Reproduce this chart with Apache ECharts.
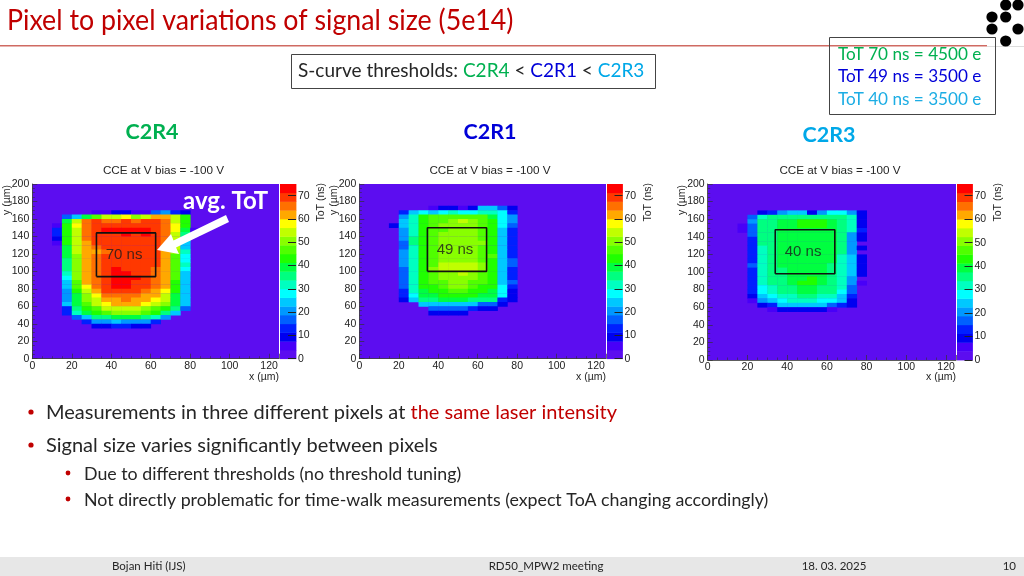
<!DOCTYPE html>
<html><head><meta charset="utf-8">
<style>html,body{margin:0;padding:0;background:#fff}#c{width:1024px;height:576px}</style>
<script src="https://cdn.jsdelivr.net/npm/echarts@6/dist/echarts.min.js"></script>
</head><body><div id="c"></div>
<script>
// ---- data ----
const palette=['#5c0df0','#4800f8','#0000f0','#0020ff','#0060ff','#0098ff','#00c8ff','#00ffff','#00ffc0','#00ff80','#00ff40','#20ff00','#50ff00','#88ff00','#c0ff00','#ffff00','#ffa800','#ff7000','#ff3800','#ff0000'];
const levelStep=3.75;
const barLevels=[0,3.75,7.5,11.25,15,18.75,22.5,26.25,30,33.75,37.5,41.25,45,48.75,52.5,56.25,60,63.75,67.5,71.25];
const binSize=5;
// rows listed from the top row down; first column x, top row y given
const c2r4X=10, c2r4TopY=165;
const c2r4=[
[0,0,0,0,4,6,8,8,6,4,18,20,14,8,0],
[0,16,24,38,46,54,56,58,50,56,62,62,56,42,0],
[0,40,56,64,68,66,66,68,66,68,70,66,56,44,0],
[6,42,57,66,70,70,71,71,70,70,70,66,57,42,0],
[12,42,56,66,70,72,72,72,72,72,70,66,58,40,6],
[14,42,56,64,68,70,70,72,70,72,70,66,56,34,4],
[10,42,56,64,68,70,70,70,70,70,70,64,56,30,0],
[6,42,54,62,68,70,70,70,70,70,70,64,54,26,0],
[0,40,54,60,66,68,70,70,70,70,70,62,56,26,0],
[0,40,54,60,62,66,70,70,70,70,68,60,52,30,0],
[0,38,52,60,64,68,70,70,70,70,68,62,46,28,0],
[0,36,52,62,66,70,70,70,70,70,68,62,46,28,0],
[0,36,52,62,66,70,70,70,70,70,68,62,46,30,0],
[0,34,52,60,66,70,72,70,70,70,66,60,48,28,0],
[0,32,52,60,64,70,72,72,70,70,66,60,46,26,0],
[0,28,50,60,64,68,72,72,72,70,66,60,46,26,0],
[0,26,48,62,64,70,72,72,70,68,66,60,44,26,0],
[0,24,46,58,64,70,72,72,70,68,64,60,44,26,0],
[0,22,42,56,62,68,70,70,68,66,62,58,42,26,0],
[0,20,40,52,58,64,66,66,64,62,60,56,40,26,0],
[0,22,40,50,56,60,62,64,62,60,58,54,38,26,0],
[0,24,38,46,54,58,60,60,60,58,56,50,38,24,0],
[0,14,34,42,48,54,56,56,54,52,48,42,34,16,0],
[0,14,30,38,44,48,50,50,50,46,42,36,24,0,0],
[0,0,16,26,34,36,38,38,38,34,32,20,0,0,0],
[0,0,0,14,20,22,24,22,22,20,14,0,0,0,0],
[0,0,0,0,10,10,12,12,10,8,0,0,0,0,0]];
const c2r1X=15, c2r1TopY=170;
const c2r1=[
[0,0,0,0,4,8,10,6,8,26,26,18,8],
[0,12,24,28,26,28,30,28,28,30,32,28,14],
[0,22,30,42,46,46,46,46,46,46,40,28,20],
[0,24,32,44,48,48,50,54,50,48,42,28,20],
[8,24,32,44,48,50,50,52,50,48,42,28,16],
[0,22,32,44,48,48,50,52,50,48,44,26,14],
[0,20,32,44,48,50,50,50,50,48,44,24,14],
[0,20,34,44,48,50,50,50,50,48,44,24,12],
[0,18,34,44,46,50,50,50,50,50,44,24,12],
[0,18,32,42,46,50,50,50,52,48,44,24,12],
[0,20,32,42,46,50,50,50,50,46,44,26,12],
[0,20,32,42,46,50,50,50,50,46,46,26,12],
[0,20,32,42,48,52,52,52,52,48,42,26,18],
[0,20,32,44,48,54,56,56,54,50,42,24,18],
[0,18,32,44,50,54,56,56,54,50,42,24,12],
[0,18,32,42,48,50,52,54,50,48,42,26,12],
[0,18,32,42,46,50,50,50,50,46,42,26,12],
[0,18,30,42,46,48,50,50,48,46,42,26,16],
[0,16,30,42,44,46,50,50,46,44,42,28,14],
[0,14,30,40,42,44,46,46,44,42,40,28,10],
[0,14,28,38,40,42,42,42,42,40,38,28,10],
[0,8,24,34,36,38,38,38,36,34,34,14,8],
[0,0,0,24,26,26,26,26,24,18,16,10,0],
[0,0,0,0,16,16,18,16,12,10,8,0,0],
[0,0,0,0,8,10,10,8,0,0,0,0,0]];
const c2r3X=15, c2r3TopY=165;
const c2r3=[
[0,0,8,12,20,24,24,10,22,28,28,22,10],
[0,18,32,34,34,36,36,36,36,36,34,30,10],
[0,20,34,36,38,40,42,42,42,40,36,30,10],
[6,18,34,36,38,40,42,42,42,40,36,30,10],
[6,18,34,36,38,40,40,40,40,40,36,30,12],
[0,16,34,36,38,40,40,40,40,40,36,22,10],
[0,12,34,36,38,40,40,40,40,40,36,20,8],
[0,12,34,36,38,40,40,40,40,40,36,20,0],
[0,12,32,36,38,38,40,40,40,38,34,20,8],
[0,12,32,36,38,38,40,40,40,38,34,20,0],
[0,14,32,36,38,38,40,40,38,38,32,24,8],
[0,12,32,36,38,38,40,40,38,38,32,24,10],
[0,16,32,36,38,38,40,40,38,36,32,24,10],
[0,12,30,36,36,38,40,40,38,36,32,24,8],
[0,12,30,36,36,38,40,40,38,36,32,24,8],
[0,12,30,34,36,38,40,42,38,36,30,20,0],
[0,12,30,34,36,38,42,42,38,34,30,20,6],
[0,12,28,32,34,36,40,40,36,34,30,18,0],
[0,12,28,32,34,36,38,38,36,34,28,18,0],
[0,8,24,28,30,32,34,34,32,30,26,12,0],
[0,6,22,26,28,30,30,30,28,28,24,10,0],
[0,0,10,14,24,26,26,26,26,18,14,10,0],
[0,0,0,6,8,8,8,8,8,6,0,0,0]];
// averaging windows [x0,x1,y0,y1] in µm and their labels
const box1=[32.5,62.5,94,144], box2=[34.5,64.5,100,150], box3=[34,64,98,148];
const boxLabels=['70 ns','49 ns','40 ns'];
const panelTitle='CCE at V bias = -100 V';

// ---- layout ----
const panels=[
 {rows:c2r4,x0:c2r4X,top:c2r4TopY,box:box1,label:boxLabels[0],tc:163.5,left:32.3,right:279,barL:280,barR:296,topPx:184,botPx:358.7},
 {rows:c2r1,x0:c2r1X,top:c2r1TopY,box:box2,label:boxLabels[1],tc:490,left:359.3,right:606,barL:607,barR:622.5,topPx:184,botPx:358.7},
 {rows:c2r3,x0:c2r3X,top:c2r3TopY,box:box3,label:boxLabels[2],tc:840,left:707.7,right:956,barL:957,barR:972.5,topPx:184,botPx:360}
];
const arial='"Liberation Sans",Arial,sans-serif', body='Lato,"Noto Sans",sans-serif';
function colorOf(v){return palette[Math.min(19,Math.floor(v/levelStep))];}
function cell(params,api){
 const x=api.value(0),y=api.value(1),w=api.value(3),h=api.value(4);
 const a=api.coord([x,y]),b=api.coord([x+w,y+h]);
 return {type:'rect',shape:{x:a[0],y:b[1],width:b[0]-a[0]+0.4,height:a[1]-b[1]+0.4},style:{fill:colorOf(api.value(2))}};
}
const grid=[],xAxis=[],yAxis=[],series=[];
const axisCommon={z:8,axisLine:{show:true,onZero:false,lineStyle:{color:'#333',width:0.8}},splitLine:{show:false},
 axisLabel:{color:'#222',fontFamily:arial,fontSize:10.5,margin:3}};
panels.forEach((p,i)=>{
 const g=i*2,b=i*2+1;
 grid.push({left:p.left,width:p.right-p.left,top:p.topPx,height:p.botPx-p.topPx,show:true,backgroundColor:palette[0],borderWidth:0});
 grid.push({left:p.barL,width:p.barR-p.barL,top:p.topPx,height:p.botPx-p.topPx,show:false});
 xAxis.push(Object.assign({},axisCommon,{type:'value',gridIndex:g,min:0,max:125,interval:20,
   axisTick:{inside:true,length:5,lineStyle:{color:'#333',width:0.7}},
   minorTick:{show:true,splitNumber:4,length:2.5,lineStyle:{color:'#333',width:0.6}},
   axisLabel:Object.assign({},axisCommon.axisLabel,{showMaxLabel:false,margin:2})}));
 yAxis.push(Object.assign({},axisCommon,{type:'value',gridIndex:g,min:0,max:200,interval:20,
   axisTick:{inside:true,length:5,lineStyle:{color:'#333',width:0.7}},
   minorTick:{show:true,splitNumber:4,length:2.5,lineStyle:{color:'#333',width:0.6}}}));
 xAxis.push({type:'value',gridIndex:b,min:0,max:1,show:false});
 yAxis.push({type:'value',z:8,gridIndex:b,min:0,max:75,interval:10,position:'right',
   axisLine:{show:false,onZero:false},splitLine:{show:false},
   axisTick:{inside:true,length:8,lineStyle:{color:'#222',width:1}},
   axisLabel:{color:'#222',fontFamily:arial,fontSize:10.5,margin:2,showMaxLabel:false}});
 const data=[];
 p.rows.forEach((row,r)=>row.forEach((v,c)=>{if(v>=levelStep)data.push([p.x0+c*binSize,p.top-r*binSize,v,binSize,binSize]);}));
 series.push({type:'custom',xAxisIndex:g,yAxisIndex:g,renderItem:cell,data,silent:true,clip:true,z:2,animation:false});
 series.push({type:'custom',xAxisIndex:b,yAxisIndex:b,renderItem:cell,silent:true,z:2,animation:false,
   data:barLevels.map(l=>[0,l,l,1,levelStep])});
 const [x0,x1,y0,y1]=p.box;
 series.push({type:'line',xAxisIndex:g,yAxisIndex:g,silent:true,z:5,animation:false,symbol:'none',
   lineStyle:{color:'#111',width:1.6},
   data:[[x0,y0],[x1,y0],[x1,y1],[x0,y1],[x0,y0]]});
 series.push({type:'scatter',xAxisIndex:g,yAxisIndex:g,silent:true,z:6,animation:false,symbolSize:0,
   label:{show:true,position:'inside',formatter:p.label,color:'#1a1a1a',fontFamily:arial,fontSize:15},
   data:[[(x0+x1)/2-1,(y0+y1)/2]]});
});

// ---- slide furniture ----
function T(x,y,text,o={}){return {type:'text',x,y,z:20,silent:true,rotation:o.rot||0,scaleX:o.sx||1,style:{text,fill:o.c||'#262626',
  font:`${o.b?'bold ':''}${o.s||18}px ${o.f||body}`,textAlign:o.a||'left',textVerticalAlign:'middle',rich:o.rich}};}
const R=Math.PI/2, g=[];
g.push(T(7,21,'Pixel to pixel variations of signal size (5e14)',{s:28,c:'#c00000',sx:0.955}));
g.push({type:'rect',z:1,shape:{x:0,y:45,width:987,height:1.4},style:{fill:'#cf6a62'}});
g.push({type:'rect',z:1,shape:{x:987,y:46,width:37,height:1},style:{fill:'#dddddd'}});
[[1005.7,5],[1018,5],[992,17],[1005.7,17],[992,29],[1018,29],[1005.7,41]].forEach(c=>
 g.push({type:'circle',z:3,shape:{cx:c[0],cy:c[1],r:5.6},style:{fill:'#000'}}));
g.push({type:'rect',z:9,shape:{x:291.5,y:54.5,width:364,height:34},style:{fill:'rgba(0,0,0,0)',stroke:'#444',lineWidth:1}});
const sz=19,ri={k:{fill:'#262626',font:`${sz}px ${body}`},g:{fill:'#00b050',font:`${sz}px ${body}`},b:{fill:'#0000d8',font:`${sz}px ${body}`},l:{fill:'#00a8e8',font:`${sz}px ${body}`}};
g.push(T(298,71,'{k|S-curve thresholds: }{g|C2R4}{k| < }{b|C2R1}{k| < }{l|C2R3}',{rich:ri,s:sz}));
g.push({type:'rect',z:9,shape:{x:829.5,y:37.5,width:166,height:77},style:{fill:'rgba(0,0,0,0)',stroke:'#444',lineWidth:1}});
g.push(T(838,54,'ToT 70 ns = 4500 e',{s:17.5,c:'#00b050',sx:0.98}));
g.push(T(838,76,'ToT 49 ns = 3500 e',{s:17.5,c:'#0000d8',sx:0.98}));
g.push(T(838,99,'ToT 40 ns = 3500 e',{s:17.5,c:'#1cade4',sx:0.98}));
g.push(T(152,132,'C2R4',{s:21.5,b:1,c:'#00b050',a:'center'}));
g.push(T(490,132,'C2R1',{s:21.5,b:1,c:'#0000d8',a:'center'}));
g.push(T(829,135,'C2R3',{s:21.5,b:1,c:'#00a8e8',a:'center'}));
panels.forEach(p=>{
 g.push(T(p.tc,171,panelTitle,{s:11.7,f:arial,a:'center'}));
 g.push(T(p.left-25.5,185,'y (µm)',{s:10.5,f:arial,a:'right',rot:R}));
 g.push(T(p.right,377,'x (µm)',{s:10.5,f:arial,a:'right'}));
 g.push(T(p.barR+25.5,183,'ToT (ns)',{s:10.5,f:arial,a:'right',rot:R}));
});
g.push(T(183,201,'avg. ToT',{s:24,b:1,c:'#fff'}));
g.push({type:'polygon',z:21,shape:{points:[[226,215],[229,222],[176,247.5],[179,254],[157,250],[171,234],[173.5,240.5]]},style:{fill:'#fff'}});
const bs=20;
const ri2={k:{fill:'#262626',font:`${bs}px ${body}`},r:{fill:'#c00000',font:`${bs}px ${body}`}};
g.push({type:'circle',z:20,shape:{cx:31,cy:412,r:2.6},style:{fill:'#c00000'}});
g.push(T(46,413,'{k|Measurements in three different pixels at }{r|the same laser intensity}',{rich:ri2,s:bs}));
g.push({type:'circle',z:20,shape:{cx:31,cy:445,r:2.6},style:{fill:'#c00000'}});
g.push(T(46,446,'Signal size varies significantly between pixels',{s:bs}));
g.push({type:'circle',z:20,shape:{cx:68,cy:473,r:2.4},style:{fill:'#c00000'}});
g.push(T(84,474,'Due to different thresholds (no threshold tuning)',{s:17.8}));
g.push({type:'circle',z:20,shape:{cx:68,cy:499,r:2.4},style:{fill:'#c00000'}});
g.push(T(84,500,'Not directly problematic for time-walk measurements (expect ToA changing accordingly)',{s:17.8}));
g.push({type:'rect',z:0,shape:{x:0,y:557,width:1024,height:19},style:{fill:'#e7e7e7'}});
g.push(T(112,566,'Bojan Hiti (IJS)',{s:11.5}));
g.push(T(546,566,'RD50_MPW2 meeting',{s:11.5,a:'center'}));
g.push(T(834,566,'18. 03. 2025',{s:11.5,a:'center'}));
g.push(T(1016,566,'10',{s:11.5,a:'right'}));

const chart=echarts.init(document.getElementById('c'),null,{renderer:'canvas'});
const cv=document.querySelector('#c canvas');
if(cv){const ctx=cv.getContext('2d'); if('textRendering' in ctx) ctx.textRendering='optimizeSpeed';}
chart.setOption({animation:false,backgroundColor:'#fff',grid,xAxis,yAxis,series,graphic:{elements:g},tooltip:{show:false}});
</script></body></html>
